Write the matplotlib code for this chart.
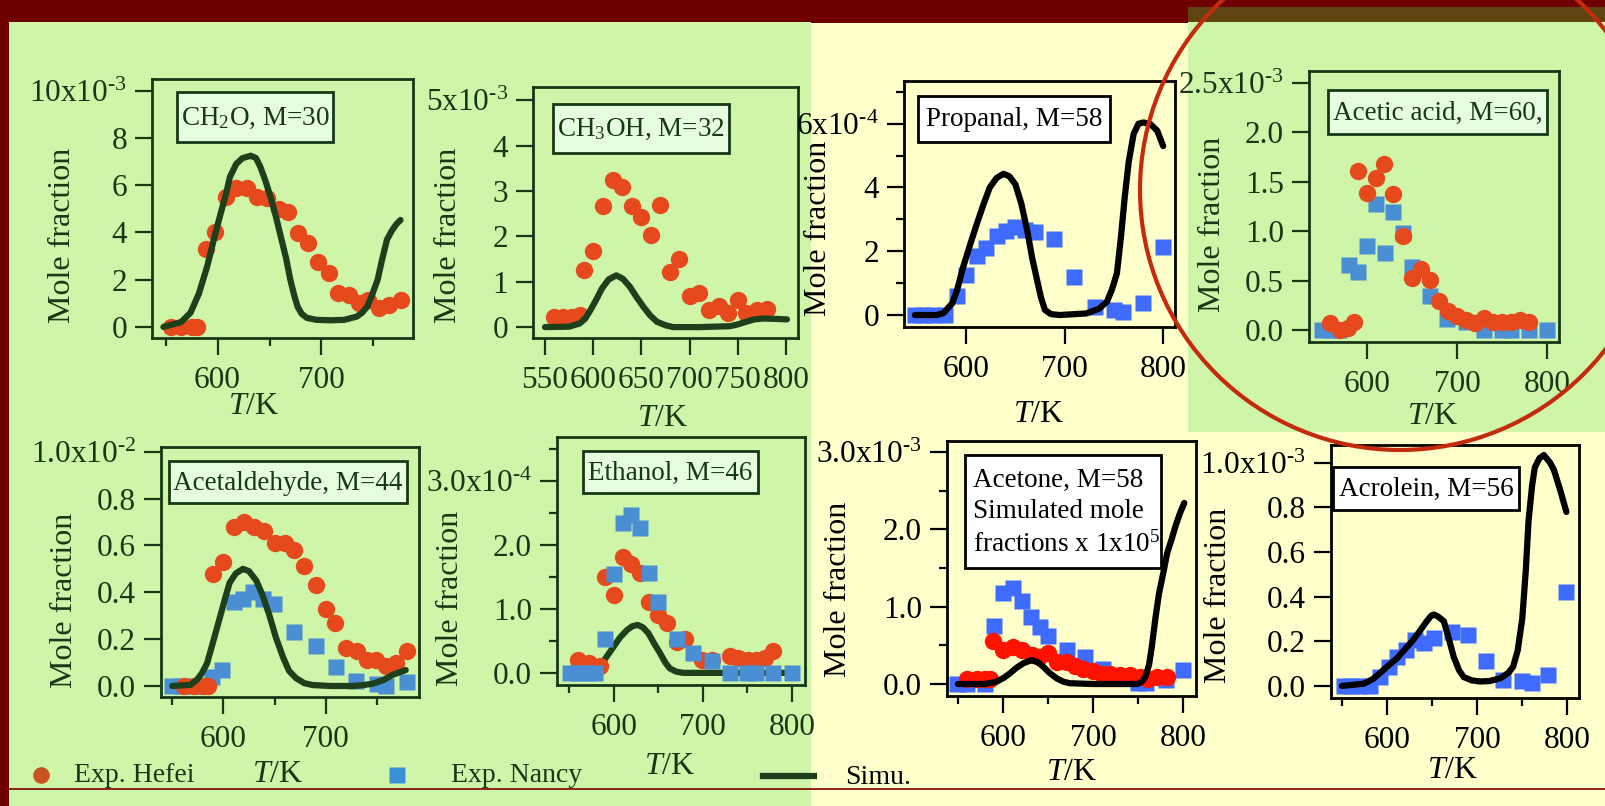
import matplotlib
matplotlib.use("Agg")
import matplotlib.pyplot as plt
from matplotlib.patches import Rectangle, Ellipse
from matplotlib.ticker import FixedLocator

plt.rcParams["font.family"] = ["Liberation Serif", "DejaVu Serif"]
plt.rcParams["mathtext.fontset"] = "custom"
plt.rcParams["mathtext.rm"] = "Liberation Serif"
plt.rcParams["mathtext.it"] = "Liberation Serif:italic"
plt.rcParams["mathtext.bf"] = "Liberation Serif:bold"

W, H = 1605, 806

# ---------------- data (mole fractions, in units of the top tick multiplier) ----------------
ch2o_hefei_T = [555, 565, 575, 580, 589, 598, 608, 618, 628, 638, 648, 659, 668, 677, 687,
                697, 707, 716, 726, 736, 745, 755, 765, 776]
ch2o_hefei_x = [0, 0, 0, 0, 3.3, 4.0, 5.5, 5.9, 5.9, 5.5, 5.45, 5.0, 4.87, 3.98, 3.57,
                2.77, 2.28, 1.43, 1.36, 1.0, 1.15, 0.8, 0.93, 1.14]
ch2o_sim_T = [548, 565, 574, 582, 590, 597, 603, 608, 612, 618, 624, 632, 637, 641, 646, 651,
              656, 661, 666, 670, 674, 677, 681, 686, 695, 709, 722, 734, 739, 744, 749, 754,
              758, 763, 768, 772, 776]
ch2o_sim_x = [0, 0.2, 0.6, 1.4, 2.55, 3.8, 4.8, 5.6, 6.36, 6.9, 7.15, 7.25, 7.15, 6.8, 6.2,
              5.5, 4.7, 3.8, 2.9, 2.0, 1.3, 0.86, 0.55, 0.38, 0.3, 0.28, 0.3, 0.44, 0.6,
              0.86, 1.4, 2.0, 2.8, 3.7, 4.1, 4.35, 4.53]

ch3oh_hefei_T = [559, 569, 578, 586, 590, 600, 610, 621, 630, 640, 650, 660, 669, 680, 689,
                 700, 710, 720, 730, 740, 750, 759, 770, 780]
ch3oh_hefei_x = [0.23, 0.23, 0.23, 0.26, 1.26, 1.68, 2.67, 3.25, 3.08, 2.66, 2.43, 2.03, 2.69,
                 1.22, 1.51, 0.69, 0.76, 0.37, 0.46, 0.32, 0.59, 0.32, 0.37, 0.39]
ch3oh_sim_T = [550, 575, 586, 592, 597, 603, 609, 616, 624, 631, 638, 645, 652, 659, 666,
               675, 683, 710, 742, 750, 759, 767, 777, 790, 801]
ch3oh_sim_x = [0, 0.01, 0.08, 0.2, 0.37, 0.6, 0.85, 1.05, 1.14, 1.06, 0.89, 0.66, 0.45, 0.26,
               0.12, 0.04, 0.0, 0.0, 0.02, 0.06, 0.12, 0.17, 0.19, 0.18, 0.17]

propanal_nancy_T = [548, 556, 566, 579, 591, 600, 611, 620, 631, 641, 650, 660, 670, 689,
                    710, 731, 750, 759, 780, 800]
propanal_nancy_x = [0, 0, 0, 0, 0.59, 1.27, 1.84, 2.1, 2.47, 2.63, 2.76, 2.66, 2.6, 2.4,
                    1.18, 0.24, 0.16, 0.1, 0.38, 2.13]
propanal_sim_T = [548, 570, 577, 586, 591, 597, 604, 611, 618, 624, 631, 638, 644, 650, 656,
                  662, 667, 672, 676, 680, 686, 695, 722, 735, 743, 748, 753, 757, 761, 765,
                  770, 775, 780, 787, 794, 800]
propanal_sim_x = [0, 0.0, 0.06, 0.37, 0.8, 1.5, 2.2, 2.87, 3.5, 4.0, 4.3, 4.43, 4.35, 4.1,
                  3.5, 2.66, 1.8, 1.1, 0.55, 0.16, 0.03, 0, 0.05, 0.2, 0.42, 0.8, 1.3, 2.4,
                  3.7, 4.8, 5.68, 6.0, 6.04, 5.99, 5.78, 5.3]

acetic_hefei_T = [559, 570, 579, 585, 590, 600, 610, 619, 629, 640, 650, 660, 670, 680, 690,
                  700, 710, 720, 730, 740, 750, 760, 770, 780]
acetic_hefei_x = [0.07, 0.0, 0.02, 0.08, 1.61, 1.39, 1.54, 1.68, 1.38, 0.95, 0.53, 0.62, 0.51,
                  0.29, 0.19, 0.14, 0.10, 0.07, 0.12, 0.08, 0.08, 0.08, 0.10, 0.08]
acetic_nancy_T = [550, 560, 569, 580, 590, 600, 610, 620, 629, 640, 650, 670, 689, 710, 730,
                  750, 760, 780, 800]
acetic_nancy_x = [0, 0, 0, 0.66, 0.59, 0.85, 1.28, 0.78, 1.19, 0.98, 0.64, 0.35, 0.11, 0.08,
                  0, 0, 0, 0, 0]

acetald_hefei_T = [561, 571, 580, 585, 590, 600, 610, 620, 630, 640, 650, 660, 669, 679, 690,
                   700, 709, 720, 730, 740, 749, 759, 769, 779]
acetald_hefei_x = [0, 0, 0, 0, 0.48, 0.53, 0.68, 0.70, 0.68, 0.66, 0.61, 0.61, 0.58, 0.51,
                   0.43, 0.33, 0.27, 0.16, 0.15, 0.11, 0.11, 0.085, 0.10, 0.15]
acetald_nancy_T = [550, 560, 570, 580, 589, 599, 610, 619, 629, 639, 649, 669, 690, 710, 729,
                   750, 759, 779]
acetald_nancy_x = [0, 0, 0, 0, 0.037, 0.07, 0.36, 0.37, 0.40, 0.37, 0.35, 0.23, 0.17, 0.08,
                   0.02, 0.01, 0.0, 0.015]
acetald_sim_T = [550, 568, 574, 579, 584, 590, 597, 602, 606, 612, 619, 625, 632, 638, 645,
                 651, 658, 664, 671, 679, 687, 705, 726, 737, 746, 756, 765, 778]
acetald_sim_x = [0, 0.005, 0.026, 0.055, 0.097, 0.19, 0.30, 0.38, 0.44, 0.48, 0.50, 0.49,
                 0.45, 0.39, 0.30, 0.21, 0.125, 0.065, 0.033, 0.012, 0.004, 0, 0, 0.004,
                 0.01, 0.025, 0.047, 0.068]

ethanol_hefei_T = [560, 572, 585, 590, 600, 610, 620, 630, 640, 650, 660, 671, 680, 699, 710,
                   730, 740, 751, 760, 770, 779]
ethanol_hefei_x = [0.2, 0.15, 0.1, 1.5, 1.22, 1.82, 1.71, 1.56, 1.11, 0.91, 0.78, 0.49, 0.53,
                   0.2, 0.2, 0.26, 0.24, 0.2, 0.2, 0.23, 0.34]
ethanol_nancy_T = [551, 560, 570, 579, 590, 600, 610, 620, 630, 640, 650, 671, 689, 710, 730,
                   749, 760, 779, 800]
ethanol_nancy_x = [0, 0, 0, 0, 0.53, 1.54, 2.34, 2.47, 2.26, 1.56, 1.11, 0.53, 0.31, 0.19,
                   0, 0, 0, 0, 0]
ethanol_sim_T = [550, 575, 587, 593, 600, 607, 615, 621, 627, 633, 639, 645, 652, 658, 663,
                 670, 678, 719, 760, 800]
ethanol_sim_x = [0, 0.04, 0.15, 0.27, 0.41, 0.55, 0.67, 0.73, 0.75, 0.71, 0.62, 0.47, 0.31,
                 0.16, 0.07, 0.02, 0, 0, 0, 0]

acetone_hefei_T = [560, 571, 580, 586, 589, 600, 611, 621, 632, 640, 650, 660, 671, 680, 689,
                   700, 710, 719, 730, 741, 752, 761, 771, 782]
acetone_hefei_x = [0.06, 0.06, 0.06, 0.06, 0.55, 0.44, 0.48, 0.44, 0.375, 0.345, 0.40, 0.29,
                   0.28, 0.23, 0.20, 0.17, 0.13, 0.13, 0.12, 0.12, 0.095, 0.07, 0.095, 0.095]
acetone_nancy_T = [549, 560, 580, 590, 600, 611, 621, 631, 641, 650, 671, 691, 711, 750, 759,
                   781, 800]
acetone_nancy_x = [0, 0, 0, 0.75, 1.18, 1.24, 1.07, 0.87, 0.74, 0.62, 0.44, 0.345, 0.2, 0.01,
                   0.01, 0.05, 0.18]
acetone_sim_T = [550, 580, 593, 601, 608, 615, 623, 632, 639, 645, 652, 660, 667, 674, 700,
                 749, 754, 758, 762, 765, 769, 773, 778, 782, 787, 791, 796, 801]
acetone_sim_x = [0, 0.0, 0.03, 0.08, 0.14, 0.21, 0.27, 0.31, 0.28, 0.22, 0.14, 0.07, 0.03,
                 0.01, 0, 0, 0.03, 0.095, 0.25, 0.48, 0.85, 1.17, 1.45, 1.69, 1.87, 2.03,
                 2.2, 2.34]

acrolein_nancy_T = [552, 560, 570, 581, 592, 602, 611, 621, 631, 641, 652, 672, 690, 710,
                    729, 750, 761, 779, 799]
acrolein_nancy_x = [0, 0, 0, 0, 0.04, 0.087, 0.13, 0.16, 0.206, 0.194, 0.214, 0.24, 0.23,
                    0.11, 0.027, 0.02, 0.012, 0.05, 0.42]
acrolein_sim_T = [550, 574, 584, 592, 601, 611, 620, 629, 637, 644, 649, 652, 657, 663, 668,
                  674, 680, 685, 694, 703, 714, 726, 735, 740, 745, 750, 754, 757, 761, 764,
                  769, 774, 781, 785, 792, 799]
acrolein_sim_x = [0, 0.01, 0.03, 0.057, 0.09, 0.124, 0.165, 0.206, 0.25, 0.29, 0.315, 0.32,
                  0.31, 0.29, 0.22, 0.13, 0.07, 0.04, 0.025, 0.02, 0.022, 0.035, 0.06, 0.087,
                  0.16, 0.30, 0.52, 0.74, 0.9, 0.98, 1.02, 1.035, 1.0, 0.97, 0.88, 0.78]

# ---------------- colours ----------------
BORDER = "#6f0000"
GREEN_BG = "#cff5a9"
YELLOW_BG = "#ffffcc"
G_TEXT = "#163816"
G_HEFEI = "#e64a1c"
G_NANCY = "#4a8fd4"
G_SIM = "#1c401c"
Y_HEFEI = "#ff1200"
Y_NANCY = "#3f6cff"

fig = plt.figure(figsize=(W / 100, H / 100), dpi=100)


def px_rect(x0, y0, x1, y1):
    return [x0 / W, 1 - y1 / H, (x1 - x0) / W, (y1 - y0) / H]


def mult(base, exp):
    # "10x10^-3" style label with a short hyphen in the exponent
    return base + "x10$^{\\text{-}" + exp + "}$"


# background layer in pixel coordinates
bg = fig.add_axes([0, 0, 1, 1], zorder=-10)
bg.set_xlim(0, W)
bg.set_ylim(H, 0)
bg.axis("off")
bg.add_patch(Rectangle((0, 0), W, H, fc=BORDER, ec="none"))
bg.add_patch(Rectangle((9, 22), 802, H - 22, fc=GREEN_BG, ec="none"))
bg.add_patch(Rectangle((811, 23), W - 811, H - 23, fc=YELLOW_BG, ec="none"))
bg.add_patch(Rectangle((1188, 7), W - 1188, 15, fc="#5e4410", ec="none"))
bg.add_patch(Rectangle((1188, 22), W - 1188, 410, fc=GREEN_BG, ec="none"))
bg.plot([0, W], [789, 789], color="#7a0000", lw=1.2)

fg = fig.add_axes([0, 0, 1, 1], zorder=50)
fg.set_xlim(0, W)
fg.set_ylim(H, 0)
fg.axis("off")
fg.patch.set_alpha(0)

panels = [
    dict(frame=(152, 79, 413, 338), xlim=(537, 788), ylim=(-0.47, 10.5), green=True,
         xmaj=[600, 700], xmin=[550, 650, 750], xlab=["600", "700"],
         ymaj=[0, 2, 4, 6, 8, 10], ymin=[], ylab=["0", "2", "4", "6", "8", mult("10", "3")],
         box=(177, 92, 333, 142), text=["CH$_2$O, M=30"], ylabel=(62, 235), xlabel=(254, 407),
         series=[("hefei", ch2o_hefei_T, ch2o_hefei_x), ("sim", ch2o_sim_T, ch2o_sim_x)]),
    dict(frame=(533, 87, 798, 338), xlim=(537.5, 812.5), ylim=(-0.24, 5.29), green=True,
         xmaj=[550, 600, 650, 700, 750, 800], xmin=[],
         xlab=["550", "600", "650", "700", "750", "800"],
         ymaj=[0, 1, 2, 3, 4, 5], ymin=[], ylab=["0", "1", "2", "3", "4", mult("5", "3")],
         box=(553, 104, 729, 153), text=["CH$_3$OH, M=32"], ylabel=(448, 235), xlabel=(663, 418),
         series=[("hefei", ch3oh_hefei_T, ch3oh_hefei_x), ("sim", ch3oh_sim_T, ch3oh_sim_x)]),
    dict(frame=(904, 81, 1175, 327), xlim=(537, 812), ylim=(-0.375, 7.34), green=False,
         xmaj=[600, 700, 800], xmin=[], xlab=["600", "700", "800"],
         ymaj=[0, 2, 4, 6], ymin=[1, 3, 5, 7], ylab=["0", "2", "4", mult("6", "4")],
         box=(918, 96, 1110, 142), text=["Propanal, M=58"], ylabel=(819, 228), xlabel=(1039, 414),
         series=[("nancy", propanal_nancy_T, propanal_nancy_x),
                 ("sim", propanal_sim_T, propanal_sim_x)]),
    dict(frame=(1309, 71, 1559, 342), xlim=(535.5, 813), ylim=(-0.12, 2.62), green=True,
         xmaj=[600, 700, 800], xmin=[], xlab=["600", "700", "800"],
         ymaj=[0, 0.5, 1.0, 1.5, 2.0, 2.5], ymin=[],
         ylab=["0.0", "0.5", "1.0", "1.5", "2.0", mult("2.5", "3")],
         box=(1328, 90, 1547, 134), text=["Acetic acid, M=60,"], ylabel=(1212, 224),
         xlabel=(1433, 417),
         series=[("nancy", acetic_nancy_T, acetic_nancy_x),
                 ("hefei", acetic_hefei_T, acetic_hefei_x)]),
    dict(frame=(161, 447, 419, 697), xlim=(539, 791), ylim=(-0.047, 1.02), green=True,
         xmaj=[600, 700], xmin=[550, 650, 750], xlab=["600", "700"],
         ymaj=[0, 0.2, 0.4, 0.6, 0.8, 1.0], ymin=[],
         ylab=["0.0", "0.2", "0.4", "0.6", "0.8", mult("1.0", "2")],
         box=(169, 461, 407, 503), text=["Acetaldehyde, M=44"], ylabel=(64, 600),
         xlabel=(278, 775),
         series=[("nancy", acetald_nancy_T, acetald_nancy_x),
                 ("hefei", acetald_hefei_T, acetald_hefei_x),
                 ("sim", acetald_sim_T, acetald_sim_x)]),
    dict(frame=(557, 437, 805, 685), xlim=(536.5, 814.6), ylim=(-0.19, 3.69), green=True,
         xmaj=[600, 700, 800], xmin=[550, 650, 750], xlab=["600", "700", "800"],
         ymaj=[0, 1, 2, 3], ymin=[0.5, 1.5, 2.5, 3.5],
         ylab=["0.0", "1.0", "2.0", mult("3.0", "4")],
         box=(583, 451, 758, 493), text=["Ethanol, M=46"], ylabel=(450, 598), xlabel=(670, 766),
         series=[("sim", ethanol_sim_T, ethanol_sim_x),
                 ("hefei", ethanol_hefei_T, ethanol_hefei_x),
                 ("nancy", ethanol_nancy_T, ethanol_nancy_x)]),
    dict(frame=(947, 441, 1196, 696), xlim=(538, 814), ylim=(-0.155, 3.14), green=False,
         xmaj=[600, 700, 800], xmin=[550, 650, 750], xlab=["600", "700", "800"],
         ymaj=[0, 1, 2, 3], ymin=[0.5, 1.5, 2.5],
         ylab=["0.0", "1.0", "2.0", mult("3.0", "3")],
         box=(965, 455, 1161, 568),
         text=["Acetone, M=58", "Simulated mole", "fractions x 1x10$^5$"],
         ylabel=(839, 589), xlabel=(1072, 772),
         series=[("nancy", acetone_nancy_T, acetone_nancy_x),
                 ("hefei", acetone_hefei_T, acetone_hefei_x),
                 ("sim", acetone_sim_T, acetone_sim_x)]),
    dict(frame=(1331, 445, 1579, 698), xlim=(537.8, 813), ylim=(-0.054, 1.08), green=False,
         xmaj=[600, 700, 800], xmin=[550, 650, 750], xlab=["600", "700", "800"],
         ymaj=[0, 0.2, 0.4, 0.6, 0.8, 1.0], ymin=[],
         ylab=["0.0", "0.2", "0.4", "0.6", "0.8", mult("1.0", "3")],
         box=(1333, 467, 1519, 510), text=["Acrolein, M=56"], ylabel=(1218, 595),
         xlabel=(1453, 770),
         series=[("nancy", acrolein_nancy_T, acrolein_nancy_x),
                 ("sim", acrolein_sim_T, acrolein_sim_x)]),
]

for p in panels:
    green = p["green"]
    fgc = G_TEXT if green else "black"
    c_hef = G_HEFEI if green else Y_HEFEI
    c_nan = G_NANCY if green else Y_NANCY
    c_sim = G_SIM if green else "black"

    ax = fig.add_axes(px_rect(*p["frame"]), zorder=5)
    ax.set_facecolor("none")
    ax.set_xlim(*p["xlim"])
    ax.set_ylim(*p["ylim"])
    for sp in ax.spines.values():
        sp.set_color(fgc)
        sp.set_linewidth(2.0)
    ax.xaxis.set_major_locator(FixedLocator(p["xmaj"]))
    ax.set_xticklabels(p["xlab"])
    ax.xaxis.set_minor_locator(FixedLocator(p["xmin"]))
    ax.yaxis.set_major_locator(FixedLocator(p["ymaj"]))
    ax.set_yticklabels(p["ylab"])
    ax.yaxis.set_minor_locator(FixedLocator(p["ymin"]))
    ax.tick_params(which="major", direction="out", length=12, width=1.6, colors=fgc,
                   labelsize=22.5)
    ax.tick_params(which="minor", direction="out", length=6, width=1.6, colors=fgc)
    ax.tick_params(axis="x", which="major", pad=8)
    ax.tick_params(axis="y", which="major", pad=6)

    for kind, T, v in p["series"]:
        if kind == "hefei":
            ax.plot(T, v, "o", ms=12.5, color=c_hef, mec="none", zorder=3, clip_on=False)
        elif kind == "nancy":
            ax.plot(T, v, "s", ms=12, color=c_nan, mec="none", zorder=3, clip_on=False)
        else:
            ax.plot(T, v, "-", lw=4.5, color=c_sim, zorder=4,
                    solid_capstyle="round", solid_joinstyle="round")
    # ethanol: the simulation line sits under the markers
    if p["series"][0][0] == "sim":
        ax.lines[0].set_zorder(2)

    x0, y0, x1, y1 = p["box"]
    fg.add_patch(Rectangle((x0, y0), x1 - x0, y1 - y0,
                           fc="#e6fde0" if green else "white", ec=fgc, lw=2.0))
    if len(p["text"]) == 1:
        fg.text((x0 + x1) / 2, (y0 + y1) / 2 + 1, p["text"][0], ha="center", va="center",
                fontsize=19.5, color=fgc)
    else:
        for i, line in enumerate(p["text"]):
            fg.text(x0 + 8, y0 + 25 + i * 32, line, ha="left", va="center",
                    fontsize=19.5, color=fgc)

    fg.text(p["ylabel"][0], p["ylabel"][1], "Mole fraction", rotation=90, ha="center",
            va="center", fontsize=23, color=fgc)
    fg.text(p["xlabel"][0], p["xlabel"][1], "$T$/K", ha="center", va="center",
            fontsize=23, color=fgc)

# legend along the bottom
fg.plot([41], [775], "o", ms=12, color="#c9531f", mec="none")
fg.text(74, 776, "Exp. Hefei", ha="left", va="center", fontsize=20, color=G_TEXT)
fg.plot([397], [775], "s", ms=11, color="#3a8fd6", mec="none")
fg.text(451, 776, "Exp. Nancy", ha="left", va="center", fontsize=20, color=G_TEXT)
fg.plot([763, 814], [776, 776], "-", lw=4.5, color=G_SIM)
fg.text(845, 778, "Simu.", ha="left", va="center", fontsize=20, color="black")

# highlight circle around the acetic acid panel
fg.add_patch(Ellipse((1400, 190), 520, 520, fill=False, ec="#c42a0c", lw=3.0, clip_on=False))

fig.savefig("out.png", dpi=100)
